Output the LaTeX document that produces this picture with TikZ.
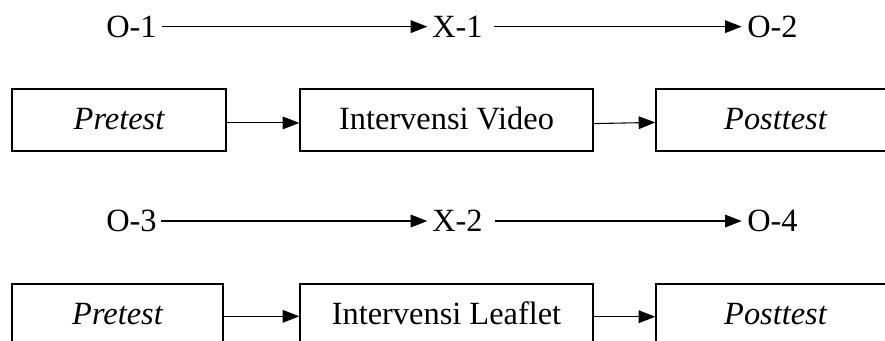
\documentclass[tikz,border=0pt]{standalone}
\usepackage{fontspec}
\setmainfont{Liberation Serif}
\usetikzlibrary{arrows.meta}
\begin{document}
\begin{tikzpicture}[x=0.75pt,y=-0.75pt,
  lbl/.style={inner sep=0pt,anchor=base west,font=\fontsize{24.3}{29}\selectfont},
  stagebox/.style={draw,line width=1pt,inner sep=0pt,minimum height=46.5pt,text height=17pt,text depth=3pt,font=\fontsize{24.3}{29}\selectfont},
  arr/.style={line width=0.8pt,-{Triangle[length=12.5pt,width=9.5pt]}}]
\path[use as bounding box,clip] (0,0) rectangle (885,341);
\fill[white] (0,0) rectangle (885,341);
% row 1 labels
\node[lbl] (o1) at (106,37.3) {O-1};
\node[lbl] (x1) at (432,37.3) {X-1};
\node[lbl] (o2) at (747,37.3) {O-2};
\draw[arr] ([xshift=4pt,yshift=8pt]o1.base east) -- ([xshift=-3.5pt,yshift=8pt]x1.base west);
\draw[arr] ([xshift=8pt,yshift=8pt]x1.base east) -- ([xshift=-4pt,yshift=8pt]o2.base west);
% row 2 boxes
\node[stagebox,minimum width=160.5pt] (p1) at (119,120) {\itshape Pretest};
\node[stagebox,minimum width=219.75pt] (v1) at (446.5,120) {Intervensi Video};
\node[stagebox,minimum width=179.25pt] (q1) at (775.5,120) {\itshape Posttest};
\draw[arr] ([yshift=-2.2pt]p1.east) -- ([yshift=-2.2pt]v1.west);
\draw[arr] ([yshift=-2.7pt]v1.east) -- ([yshift=-1.8pt]q1.west);
% row 3 labels
\node[lbl] (o3) at (106,231.7) {O-3};
\node[lbl] (x2) at (432,231.7) {X-2};
\node[lbl] (o4) at (747,231.7) {O-4};
\draw[arr] ([xshift=3pt,yshift=8pt]o3.base east) -- ([xshift=-3.5pt,yshift=8pt]x2.base west);
\draw[arr] ([xshift=9pt,yshift=8pt]x2.base east) -- ([xshift=-4pt,yshift=8pt]o4.base west);
% row 4 boxes
\node[stagebox,minimum width=158.25pt] (p2) at (117.5,315) {\itshape Pretest};
\node[stagebox,minimum width=219.75pt] (v2) at (446.5,315) {Intervensi Leaflet};
\node[stagebox,minimum width=179.25pt] (q2) at (775.5,315) {\itshape Posttest};
\draw[arr] ([yshift=-1pt]p2.east) -- ([yshift=-1pt]v2.west);
\draw[arr] ([yshift=-1.3pt]v2.east) -- ([yshift=-1.3pt]q2.west);
\end{tikzpicture}
\end{document}
